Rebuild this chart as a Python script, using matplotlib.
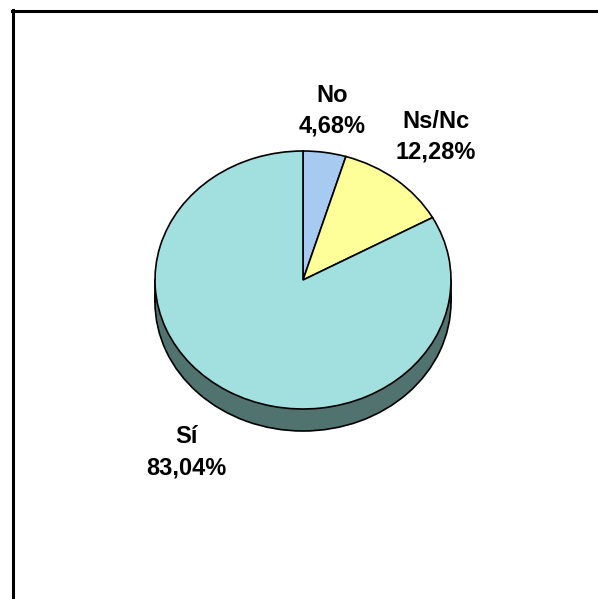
import numpy as np
import matplotlib
matplotlib.use("Agg")
import matplotlib.pyplot as plt
from matplotlib.lines import Line2D
from matplotlib.patches import Rectangle

# datos del grafico
etiquetas = ["No", "Ns/Nc", "Sí"]
porcentajes = [4.68, 12.28, 83.04]
colores = ["#A6CAF0", "#FFFF99", "#A2E0E0"]
color_lado = "#517370"

plt.rcParams['font.family'] = ['Liberation Sans', 'DejaVu Sans']

fig = plt.figure(figsize=(5.98, 5.99), dpi=100)
ax = fig.add_axes([0, 0, 1, 1])

# escala: 1 unidad = 148 px en x, 129 px en y (pastel inclinado)
cx, cy = 303, 280           # centro en pixeles (desde arriba)
rx, ry = 148, 129
prof = 22 / ry              # grosor del pastel

# lado oscuro (parte inferior del cilindro)
ax.pie([1], colors=[color_lado], center=(0, -prof), startangle=90,
       wedgeprops=dict(edgecolor="black", linewidth=1.2))
ax.add_patch(Rectangle((-1, -prof), 2, prof, facecolor=color_lado,
                       edgecolor="none", zorder=2))
for s in (-1, 1):
    ax.plot([s, s], [-prof, 0], color="black", lw=1.2, zorder=3)

# cara superior
wedges, _ = ax.pie(porcentajes, colors=colores, startangle=90, counterclock=False,
                   wedgeprops=dict(edgecolor="black", linewidth=1.2))
for w in wedges:
    w.set_zorder(4)

# etiquetas en el angulo medio de cada sector
dist = [1.33, 1.43, 1.55]
acum = np.cumsum([0] + porcentajes)
for i, (lab, p) in enumerate(zip(etiquetas, porcentajes)):
    ang = np.deg2rad((acum[i] + p / 2) / 100 * 360)
    x = dist[i] * np.sin(ang)
    y = dist[i] * np.cos(ang)
    txt = f"{lab}\n{p:.2f}%".replace(".", ",")
    ax.text(x, y, txt, ha="center", va="center", fontsize=17,
            fontweight="bold", linespacing=1.42, zorder=5)

ax.set_aspect("auto")
ax.set_xlim(-cx / rx, (598 - cx) / rx)
ax.set_ylim(-(599 - cy) / ry, cy / ry)
ax.axis("off")

# marco (solo borde superior e izquierdo visibles)
fig.add_artist(Line2D([12 / 598, 1], [1 - 10.7 / 599, 1 - 10.7 / 599],
                      color="black", lw=2.2))
fig.add_artist(Line2D([13.3 / 598, 13.3 / 598], [0, 1 - 9.5 / 599],
                      color="black", lw=2.2))

fig.savefig("out.png", dpi=100)
